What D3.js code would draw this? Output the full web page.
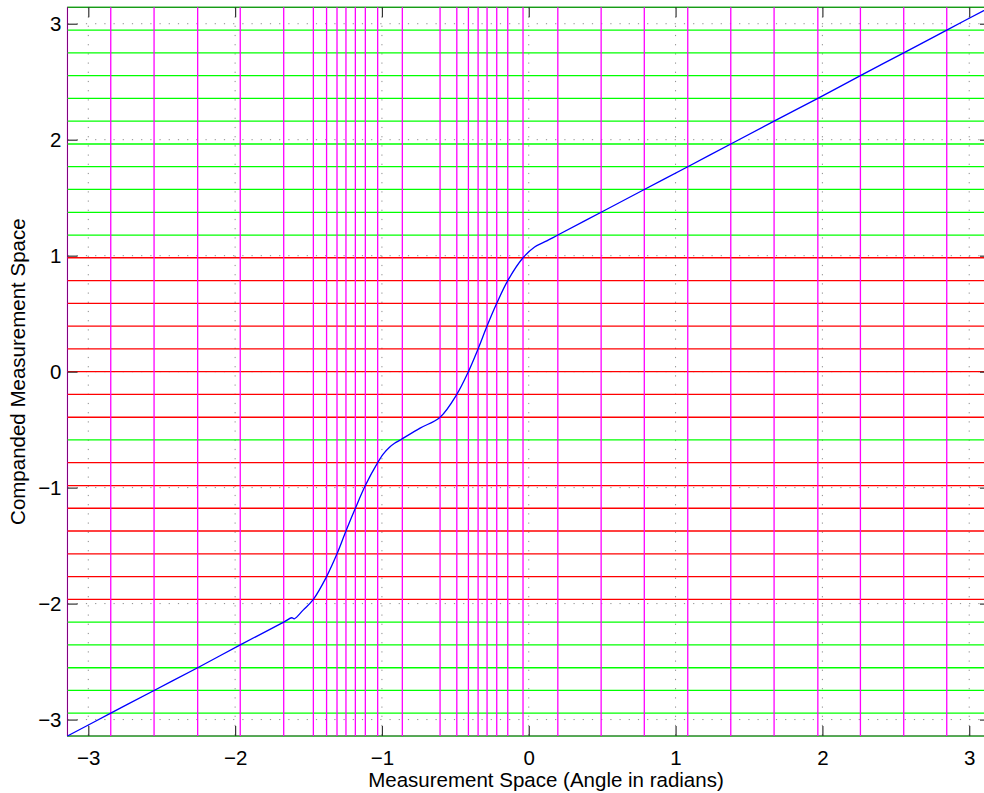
<!DOCTYPE html>
<html>
<head>
<meta charset="utf-8">
<script src="https://cdn.jsdelivr.net/npm/d3@7"></script>
<style>
body { margin: 0; background: #fff; }
text { font-family: "Liberation Sans", Arial, Helvetica, sans-serif; fill: #000; }
</style>
</head>
<body>
<script>
var w = 984, h = 793;
var lim = 3.1416;   // axis limits are +/- pi on both axes
var ticks = [-3, -2, -1, 0, 1, 2, 3];

// companded levels (horizontal lines), bottom to top
var levels = [-3.142, -2.945, -2.749, -2.553, -2.356, -2.160, -1.963, -1.767, -1.571, -1.374, -1.178,
  -0.982, -0.785, -0.589, -0.393, -0.196, 0, 0.196, 0.393, 0.589, 0.785, 0.982,
  1.178, 1.374, 1.571, 1.767, 1.963, 2.160, 2.356, 2.553, 2.749, 2.945, 3.142];
// g = linear part, r = companded part
var levelKind = ["g","g","g","g","g","g","r","r","r","r","r","r","r","g","r","r","r","r","r","r","r","r",
  "g","g","g","g","g","g","g","g","g","g","g"];
// measurement values where the curve reaches each level (vertical lines)
var cuts = [-3.142, -2.847, -2.552, -2.255, -1.965, -1.669, -1.467, -1.377, -1.306, -1.245, -1.181,
  -1.113, -1.029, -0.861, -0.604, -0.490, -0.411, -0.345, -0.284, -0.218, -0.143, -0.039,
  0.198, 0.493, 0.787, 1.083, 1.376, 1.671, 1.969, 2.259, 2.554, 2.847, 3.142];

// the companding curve
var curveX = [-3.142, -2.847, -2.552, -2.255, -1.965, -1.669, -1.614, -1.597, -1.535, -1.467, -1.377,
  -1.306, -1.245, -1.181, -1.113, -1.029, -0.990, -0.952, -0.914, -0.875, -0.740, -0.604, -0.490,
  -0.411, -0.345, -0.284, -0.218, -0.143, -0.039, 0.040, 0.123, 0.198, 0.493, 0.787, 1.083, 1.376,
  1.671, 1.969, 2.259, 2.554, 2.847, 3.142];
var curveY = [-3.142, -2.945, -2.749, -2.553, -2.356, -2.160, -2.122, -2.131, -2.054, -1.963, -1.767,
  -1.571, -1.374, -1.178, -0.982, -0.785, -0.709, -0.656, -0.618, -0.589, -0.487, -0.393, -0.196,
  0, 0.196, 0.393, 0.589, 0.785, 0.982, 1.075, 1.128, 1.178, 1.374, 1.571, 1.767, 1.963,
  2.160, 2.356, 2.553, 2.749, 2.945, 3.142];

var colors = { g: "#00ff00", r: "#ff0000" };

var plotL = 67.5, plotR = 990, plotT = 7.3, plotB = 736;

var x = d3.scaleLinear().domain([-lim, lim]).range([plotL, plotR]);
var y = d3.scaleLinear().domain([-lim, lim]).range([plotB, plotT]);

var svg = d3.select("body").append("svg")
  .attr("width", w)
  .attr("height", h)
  .style("display", "block");

// dotted grid at the ticks
var grid = svg.append("g").attr("stroke", "#8c8c8c").attr("stroke-dasharray", "1.2,8").attr("stroke-width", 1);
grid.selectAll("line.gx").data(ticks).enter().append("line")
  .attr("x1", d => x(d)).attr("x2", d => x(d))
  .attr("y1", plotT).attr("y2", plotB);
grid.selectAll("line.gy").data(ticks).enter().append("line")
  .attr("y1", d => y(d)).attr("y2", d => y(d))
  .attr("x1", plotL).attr("x2", plotR);

// box
svg.append("rect")
  .attr("x", plotL).attr("y", plotT)
  .attr("width", plotR - plotL).attr("height", plotB - plotT)
  .attr("fill", "none").attr("stroke", "#000").attr("stroke-width", 1);

// horizontal level lines
svg.append("g").selectAll("line").data(levels).enter().append("line")
  .attr("x1", plotL).attr("x2", plotR)
  .attr("y1", d => y(d)).attr("y2", d => y(d))
  .attr("stroke", (d, i) => colors[levelKind[i]])
  .attr("stroke-opacity", (d, i) => (i == 0 || i == levels.length - 1) ? 0.5 : 1)
  .attr("stroke-width", 1.3);

// vertical cut lines
svg.append("g").selectAll("line").data(cuts).enter().append("line")
  .attr("y1", plotT).attr("y2", plotB)
  .attr("x1", d => x(d)).attr("x2", d => x(d))
  .attr("stroke", "#ff00ff")
  .attr("stroke-opacity", (d, i) => (i == 0 || i == cuts.length - 1) ? 0.5 : 1)
  .attr("stroke-width", 1.3);

// curve
var pts = curveX.map((v, i) => [v, curveY[i]]);
var line = d3.line().x(d => x(d[0])).y(d => y(d[1])).curve(d3.curveCatmullRom.alpha(0.5));
svg.append("path")
  .datum(pts)
  .attr("d", line)
  .attr("fill", "none")
  .attr("stroke", "#0000ff")
  .attr("stroke-width", 1.3);

// axes, ticks inward on all four sides
var tl = 10;
svg.append("g").attr("transform", "translate(0," + plotB + ")")
  .call(d3.axisBottom(x).tickValues(ticks).tickSize(-tl).tickPadding(14).tickFormat(d3.format("")));
svg.append("g").attr("transform", "translate(0," + plotT + ")")
  .call(d3.axisTop(x).tickValues(ticks).tickSize(-tl).tickFormat(""));
svg.append("g").attr("transform", "translate(" + plotL + ",0)")
  .call(d3.axisLeft(y).tickValues(ticks).tickSize(-tl).tickPadding(6).tickFormat(d3.format("")));
svg.append("g").attr("transform", "translate(" + plotR + ",0)")
  .call(d3.axisRight(y).tickValues(ticks).tickSize(-tl).tickFormat(""));

svg.selectAll(".domain").remove();
svg.selectAll(".tick line").attr("stroke", "#333").attr("stroke-width", 1.2);
svg.selectAll(".tick text").attr("font-size", 20.5).attr("fill", "#000")
  .style("font-family", '"Liberation Sans", Arial, sans-serif');

// labels
svg.append("text")
  .attr("x", 546)
  .attr("y", 787)
  .attr("text-anchor", "middle")
  .attr("font-size", 20.5)
  .text("Measurement Space (Angle in radians)");

svg.append("text")
  .attr("transform", "translate(25," + (plotT + plotB) / 2 + ") rotate(-90)")
  .attr("text-anchor", "middle")
  .attr("font-size", 20.5)
  .text("Companded Measurement Space");
</script>
</body>
</html>
